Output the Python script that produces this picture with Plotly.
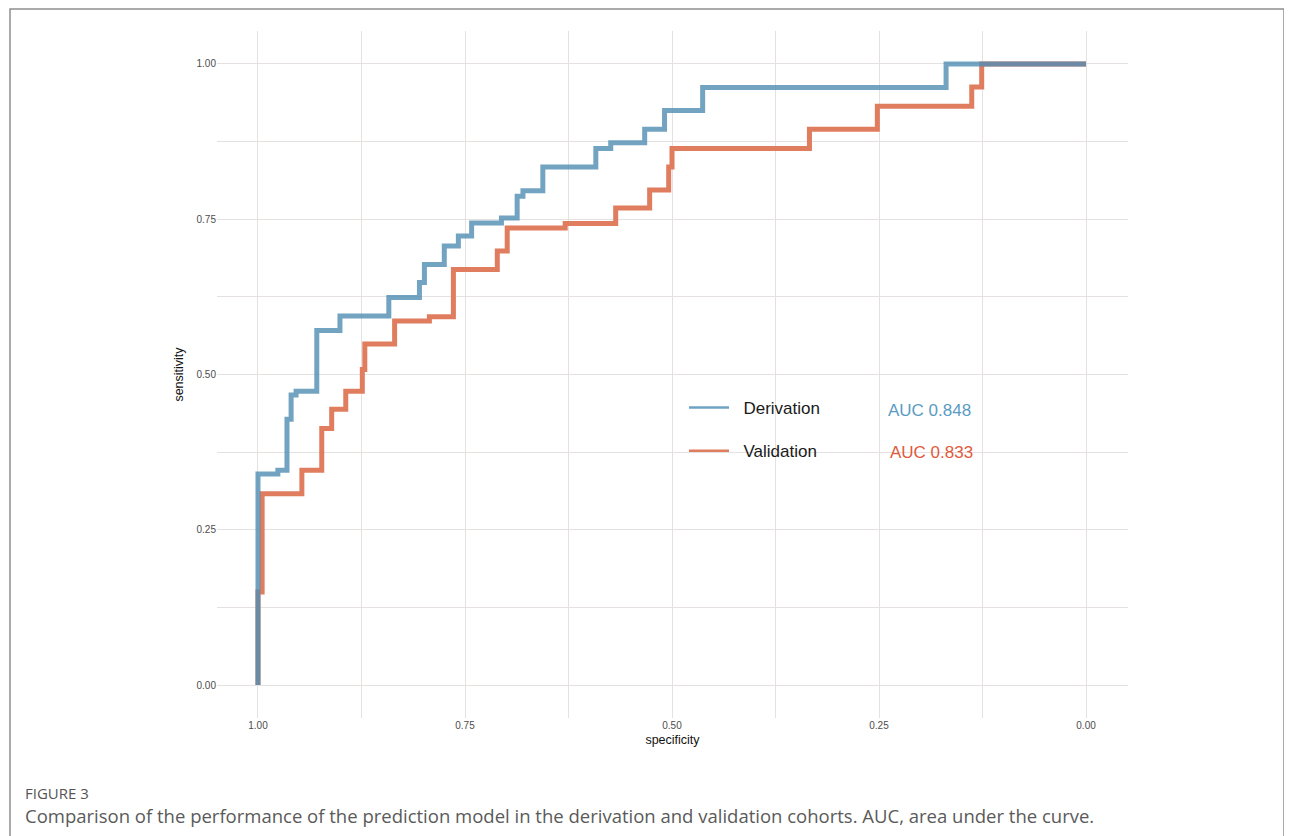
import plotly.graph_objects as go

# Derivation ROC (specificity, sensitivity) step points
deriv_spec = [1.0, 1.0, 0.976, 0.965, 0.960, 0.954, 0.929, 0.901, 0.842, 0.805, 0.799,
              0.775, 0.758, 0.742, 0.706, 0.687, 0.680, 0.656, 0.592, 0.574, 0.533,
              0.509, 0.463, 0.169, 0.0]
deriv_sens = [0.0, 0.340, 0.346, 0.428, 0.467, 0.473, 0.571, 0.594, 0.624, 0.648, 0.677,
              0.707, 0.723, 0.744, 0.752, 0.787, 0.796, 0.834, 0.864, 0.873, 0.895,
              0.925, 0.962, 1.0, 1.0]

# Validation ROC
valid_spec = [1.0, 1.0, 0.995, 0.947, 0.923, 0.911, 0.894, 0.874, 0.871, 0.835, 0.793,
              0.764, 0.711, 0.699, 0.629, 0.568, 0.527, 0.504, 0.500, 0.334, 0.252,
              0.138, 0.126, 0.0]
valid_sens = [0.0, 0.150, 0.308, 0.346, 0.413, 0.444, 0.473, 0.508, 0.549, 0.586, 0.593,
              0.669, 0.699, 0.736, 0.743, 0.768, 0.797, 0.834, 0.864, 0.895, 0.932,
              0.963, 1.0, 1.0]

series_names = ["Derivation", "Validation"]
auc_labels = ["AUC 0.848", "AUC 0.833"]
tick_vals = [0.0, 0.25, 0.5, 0.75, 1.0]
tick_text = ["0.00", "0.25", "0.50", "0.75", "1.00"]

BLUE = "rgb(80,142,180)"
ORANGE = "#e07d5f"
GRID = "#e6e1e1"
PAD = "\u00a0\u00a0"

fig = go.Figure()
fig.add_trace(go.Scatter(x=valid_spec, y=valid_sens, mode="lines", line_shape="hv",
                         line=dict(color=ORANGE, width=5), showlegend=False, hoverinfo="skip"))
fig.add_trace(go.Scatter(x=deriv_spec, y=deriv_sens, mode="lines", line_shape="hv",
                         line=dict(color=BLUE, width=5), opacity=0.8, showlegend=False,
                         hoverinfo="skip"))
# legend entries
fig.add_trace(go.Scatter(x=[None], y=[None], mode="lines", name=PAD + series_names[0],
                         line=dict(color="#6ea3c4", width=2.5), legendgroup="a"))
fig.add_trace(go.Scatter(x=[None], y=[None], mode="lines", name=PAD + series_names[1],
                         line=dict(color=ORANGE, width=2.5), legendgroup="b"))

# screen-pixel -> paper helpers (page is offset ~7px by the body margin)
def px(x):
    return (x - 216) / 911

def py(y):
    return (717 - y) / 687

annotations = [
    dict(text=auc_labels[0], x=px(885), y=py(409), xref="paper", yref="paper",
         xanchor="left", yanchor="middle", showarrow=False,
         font=dict(family="Liberation Sans, Arial", size=17, color="#5a9bc3")),
    dict(text=auc_labels[1], x=px(887), y=py(452), xref="paper", yref="paper",
         xanchor="left", yanchor="middle", showarrow=False,
         font=dict(family="Liberation Sans, Arial", size=17, color="#e05a3c")),
    dict(text="FIGURE 3", x=px(22), y=py(792), xref="paper", yref="paper",
         xanchor="left", yanchor="middle", showarrow=False,
         font=dict(family="Open Sans", size=15, color="#555555")),
    dict(text="Comparison of the performance of the prediction model in the derivation and validation cohorts. AUC, area under the curve.",
         x=px(22), y=py(814), xref="paper", yref="paper",
         xanchor="left", yanchor="middle", showarrow=False,
         font=dict(family="Open Sans", size=18.5, color="#5a5a5a")),
]

fig.update_layout(
    width=1292, height=836,
    margin=dict(l=209, r=172, t=23, b=126),
    paper_bgcolor="white", plot_bgcolor="white",
    font=dict(family="Liberation Sans, Arial", color="#4d4d4d"),
    annotations=annotations,
    legend=dict(x=px(683), y=py(389), xanchor="left", yanchor="top",
                bgcolor="rgba(0,0,0,0)", itemwidth=40, traceorder="grouped",
                tracegroupgap=18,
                font=dict(family="Liberation Sans, Arial", size=17, color="#1a1a1a")),
    shapes=[dict(type="rect", xref="paper", yref="paper",
                 x0=px(9), x1=px(1283), y0=py(845), y1=py(8),
                 line=dict(color="#8f8f8f", width=1.5), fillcolor="rgba(0,0,0,0)")],
)

fig.update_xaxes(
    range=[1.0495, -0.0507], tickvals=tick_vals, ticktext=tick_text,
    showgrid=True, gridcolor=GRID, gridwidth=1.2, zeroline=False, showline=False,
    ticks="", tickfont=dict(size=10, color="#4d4d4d"),
    minor=dict(dtick=0.125, tick0=0, showgrid=True, gridcolor=GRID, gridwidth=1.2),
    title=dict(text="specificity", font=dict(size=12.5, color="#111111"), standoff=5),
)
fig.update_yaxes(
    range=[-0.053, 1.053], tickvals=tick_vals, ticktext=tick_text,
    showgrid=True, gridcolor=GRID, gridwidth=1.2, zeroline=False, showline=False,
    ticks="", tickfont=dict(size=10, color="#4d4d4d"),
    minor=dict(dtick=0.125, tick0=0, showgrid=True, gridcolor=GRID, gridwidth=1.2),
    title=dict(text="sensitivity", font=dict(size=12.5, color="#111111"), standoff=10),
)

fig.write_html("out.html")
